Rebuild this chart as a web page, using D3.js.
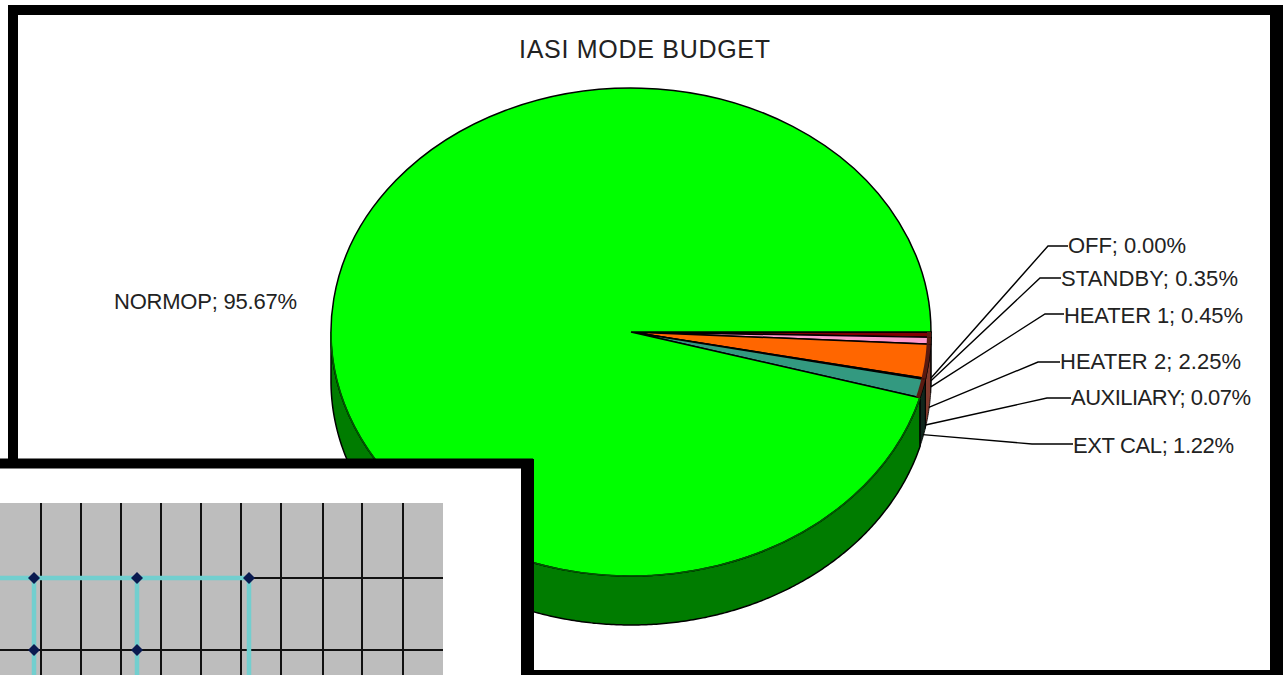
<!DOCTYPE html>
<html>
<head>
<meta charset="utf-8">
<title>IASI mode budget</title>
<script src="https://cdnjs.cloudflare.com/ajax/libs/d3/7.8.5/d3.min.js"></script>
<style>
  html, body { margin: 0; padding: 0; background: #fff; }
  svg { display: block; }
  text { font-family: "Liberation Sans", Arial, sans-serif; fill: #222; }
</style>
</head>
<body>
<svg id="chart" width="1283" height="675"></svg>
<script>
// Mode budget, percent of mission time, in drawing order starting at 3 o'clock.
const modes = ["OFF", "STANDBY", "HEATER 1", "HEATER 2", "AUXILIARY", "EXT CAL", "NORMOP"];
const shares = [0.00, 0.35, 0.45, 2.25, 0.07, 1.22, 95.67];
const topColors = ["#000080", "#800000", "#ff99cc", "#ff6600", "#993300", "#339980", "#00ff00"];
const wallColors = ["#000040", "#500a00", "#803a2c", "#803a2c", "#401000", "#10261c", "#007c00"];

// Where each label sits: text start, baseline, fitted width, and leader elbow.
const labelPlacement = [
  { x: 1068, base: 253, width: 118, elbowX: 1048, elbowY: 246 },
  { x: 1061, base: 286, width: 177, elbowX: 1040, elbowY: 278 },
  { x: 1064, base: 323, width: 179, elbowX: 1045, elbowY: 314 },
  { x: 1060, base: 369, width: 181, elbowX: 1038, elbowY: 362 },
  { x: 1071, base: 405, width: 180, elbowX: 1047, elbowY: 398 },
  { x: 1073, base: 453, width: 161, elbowX: 1032, elbowY: 444 },
  { x: 114,  base: 309, width: 183 }
];

// Second panel: a timing grid with a stepped trace laid over it.
const gridColumns = [41, 81, 121, 161, 201, 241, 281, 323, 362, 403];
const gridRows = [578, 650];
const traceStops = [[0, 578], [34, 578], [137, 578], [249, 578]];
const traceDrops = [34, 137, 249];
const stateMarks = [[34, 578], [137, 578], [249, 578], [34, 650], [137, 650]];

const svg = d3.select("#chart");
const cx = 631, cy = 332, rx = 300, ry = 244, depth = 49, leaderDrop = 46;

// Outer frame
svg.append("rect").attr("x", 13).attr("y", 10).attr("width", 1264).attr("height", 665)
  .attr("fill", "#fff").attr("stroke", "#000").attr("stroke-width", 10);
svg.append("rect").attr("x", 1270).attr("y", 5).attr("width", 13).attr("height", 670).attr("fill", "#000");

svg.append("text").attr("x", 519).attr("y", 58)
  .attr("font-size", 25).attr("textLength", 251).attr("lengthAdjust", "spacing")
  .text("IASI MODE BUDGET");

// Pie layout: clockwise from 3 o'clock
const rows = modes.map((mode, i) => ({ mode, share: shares[i], i }));
const slices = d3.pie()
  .value(d => d.share)
  .sort(null)
  .startAngle(Math.PI / 2)
  .endAngle(Math.PI / 2 + 2 * Math.PI)(rows);

const rimX = a => cx + rx * Math.sin(a);
const rimY = a => cy - ry * Math.cos(a);

function nearRimAngles(s) {
  const from = Math.max(s.startAngle, Math.PI / 2);
  const to = Math.min(s.endAngle, 3 * Math.PI / 2);
  if (to <= from) return [];
  const steps = Math.max(2, Math.ceil((to - from) * 120));
  return d3.range(steps + 1).map(k => from + (to - from) * k / steps);
}

// Side wall: only the part of a slice's rim on the near half of the ellipse
const pathLine = d3.line();
slices.forEach(s => {
  const angles = nearRimAngles(s);
  if (!angles.length) return;
  const outline = [
    ...angles.map(a => [rimX(a), rimY(a)]),
    ...angles.slice().reverse().map(a => [rimX(a), rimY(a) + depth])
  ];
  svg.append("path")
    .attr("d", pathLine(outline) + "Z")
    .attr("fill", wallColors[s.data.i])
    .attr("stroke", "#000")
    .attr("stroke-width", s.data.mode === "NORMOP" ? 1.5 : 0.8);
});

// Pie top, drawn on a circle and squashed to the tilted ellipse
const arc = d3.arc().innerRadius(0).outerRadius(rx);
svg.append("g")
  .attr("transform", `translate(${cx},${cy}) scale(1,${ry / rx})`)
  .selectAll("path")
  .data(slices)
  .join("path")
  .attr("d", arc)
  .attr("fill", d => topColors[d.data.i])
  .attr("stroke", "#000")
  .attr("stroke-width", 1.5)
  .attr("vector-effect", "non-scaling-stroke");

// Where the top meets the large slice's wall the edge reads as dark green
const normop = slices[slices.length - 1];
svg.append("path")
  .attr("d", pathLine(nearRimAngles(normop).map(a => [rimX(a), rimY(a)])))
  .attr("fill", "none").attr("stroke", "#005a00").attr("stroke-width", 1.6);

// Thick dark edge along the small slices' rim
slices.slice(0, -1).forEach(s => {
  const angles = nearRimAngles(s);
  if (!angles.length) return;
  svg.append("path")
    .attr("d", pathLine(angles.map(a => [rimX(a) - 2, rimY(a)])))
    .attr("fill", "none").attr("stroke", "#5a1a10").attr("stroke-width", 4);
});

// Leader lines run from the side wall, under each slice's mid angle, to its label
slices.forEach(s => {
  const place = labelPlacement[s.data.i];
  if (place.elbowX === undefined) return;
  const mid = (s.startAngle + s.endAngle) / 2;
  svg.append("path")
    .attr("d", pathLine([
      [rimX(mid), rimY(mid) + leaderDrop],
      [place.elbowX, place.elbowY],
      [place.x, place.elbowY]
    ]))
    .attr("fill", "none").attr("stroke", "#000").attr("stroke-width", 1.4);
});

svg.append("g").selectAll("text")
  .data(rows)
  .join("text")
  .attr("x", d => labelPlacement[d.i].x)
  .attr("y", d => labelPlacement[d.i].base)
  .attr("font-size", 22)
  .attr("textLength", d => labelPlacement[d.i].width)
  .attr("lengthAdjust", "spacing")
  .text(d => `${d.mode}; ${d.share.toFixed(2)}%`);

// Overlapping panel at the lower left
const panel = svg.append("g");
panel.append("rect").attr("x", -10).attr("y", 463.5).attr("width", 538).attr("height", 222)
  .attr("fill", "#fff").attr("stroke", "#000").attr("stroke-width", 10);
panel.append("rect").attr("x", 521).attr("y", 459).attr("width", 13).attr("height", 216).attr("fill", "#000");
panel.append("rect").attr("x", 0).attr("y", 503).attr("width", 443).attr("height", 172).attr("fill", "#bdbdbd");

const px = d3.scaleLinear().domain([0, 443]).range([0, 443]);
const py = d3.scaleLinear().domain([503, 675]).range([503, 675]);

panel.selectAll(".column").data(gridColumns).join("line")
  .attr("class", "column")
  .attr("x1", d => px(d)).attr("x2", d => px(d))
  .attr("y1", py(503)).attr("y2", py(675))
  .attr("stroke", "#111").attr("stroke-width", 2);
panel.selectAll(".row").data(gridRows).join("line")
  .attr("class", "row")
  .attr("x1", px(0)).attr("x2", px(443))
  .attr("y1", d => py(d)).attr("y2", d => py(d))
  .attr("stroke", "#111").attr("stroke-width", 2);

panel.append("path")
  .attr("d", d3.line().x(d => px(d[0])).y(d => py(d[1]))(traceStops))
  .attr("fill", "none").attr("stroke", "#72cfcf").attr("stroke-width", 4.5);
panel.selectAll(".drop").data(traceDrops).join("line")
  .attr("class", "drop")
  .attr("x1", d => px(d)).attr("x2", d => px(d))
  .attr("y1", py(578)).attr("y2", py(675))
  .attr("stroke", "#72cfcf").attr("stroke-width", 4.5);

panel.selectAll(".mark").data(stateMarks).join("path")
  .attr("class", "mark")
  .attr("d", d3.symbol(d3.symbolSquare, 72))
  .attr("transform", d => `translate(${px(d[0])},${py(d[1])}) rotate(45)`)
  .attr("fill", "#0a1a50");
</script>
</body>
</html>
